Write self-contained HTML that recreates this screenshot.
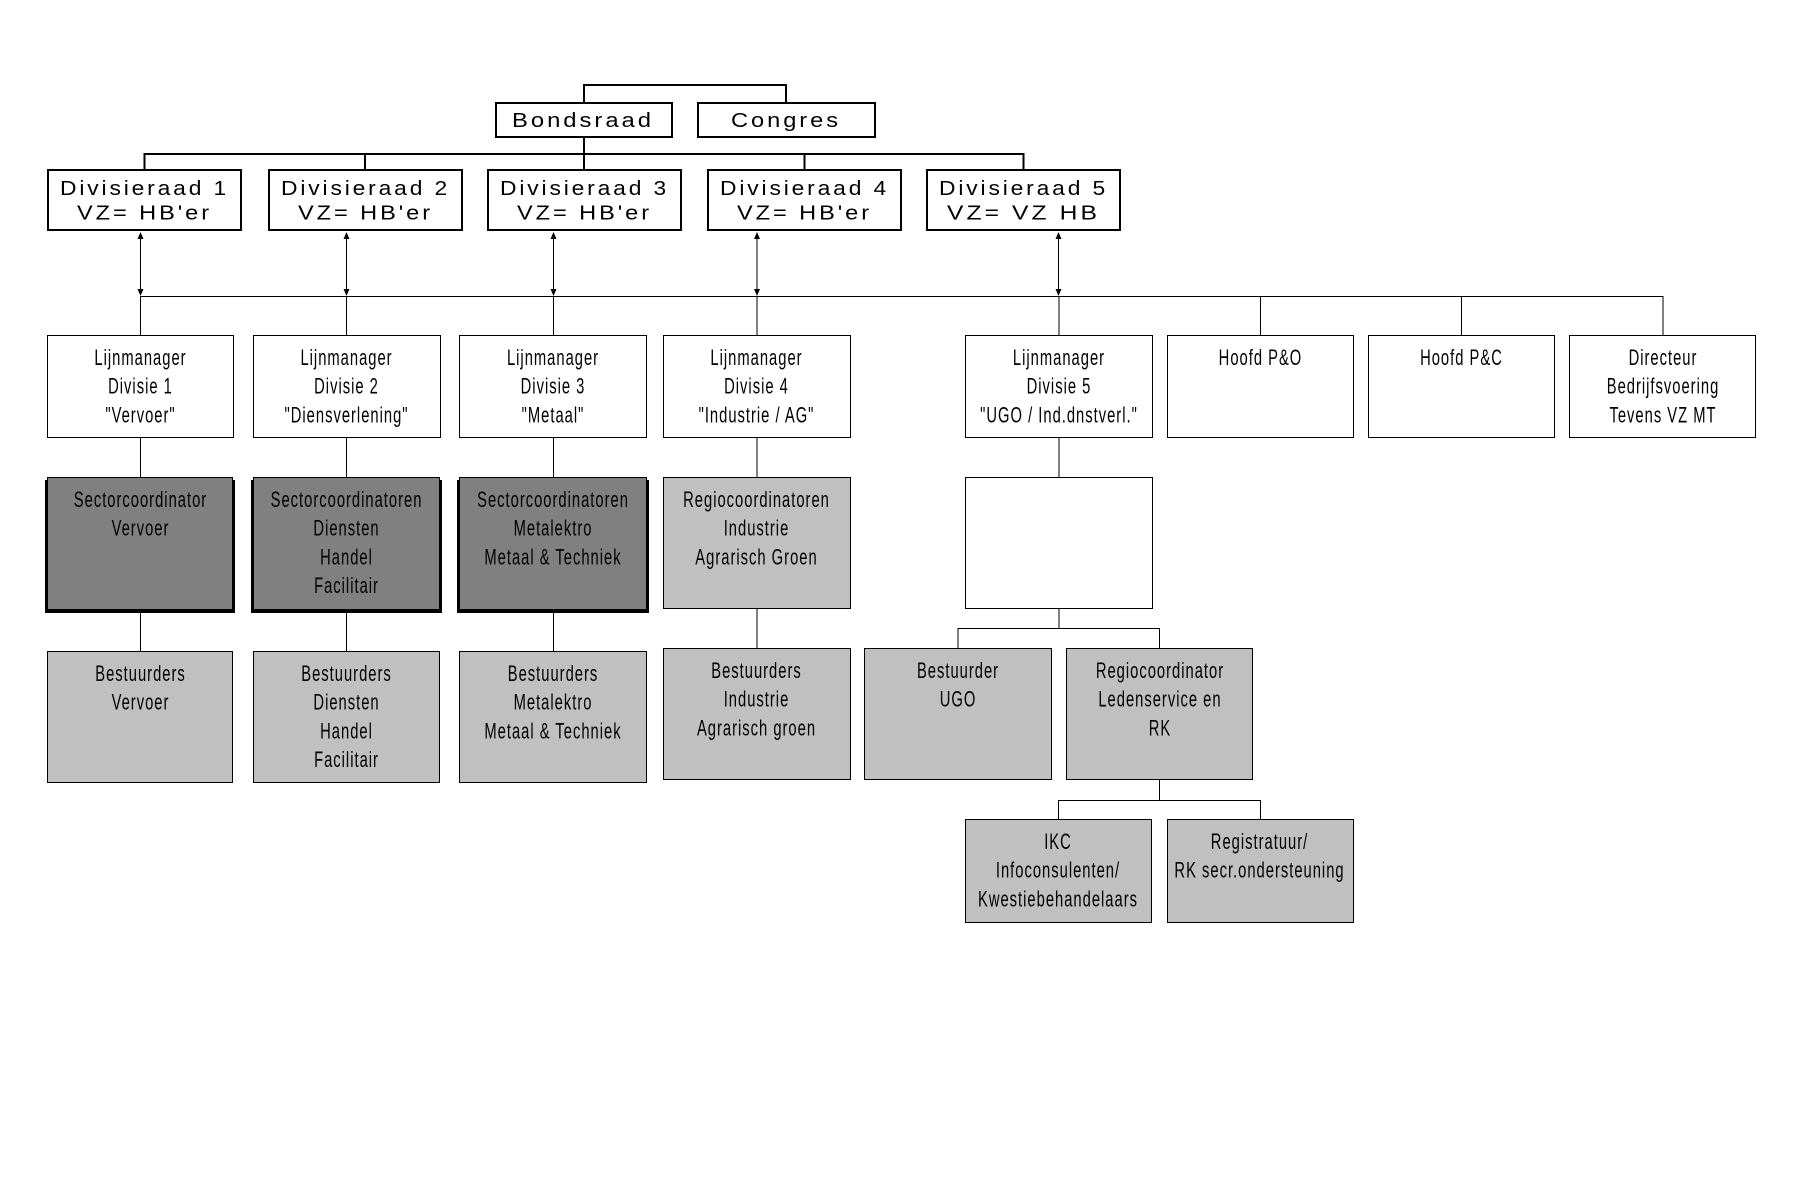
<!DOCTYPE html>
<html><head><meta charset="utf-8"><style>
html,body{margin:0;padding:0;background:#fff;}
svg{display:block;}
.t{font-family:"Liberation Sans",Arial,sans-serif;font-size:20px;fill:#000;letter-spacing:2.5px;}
.n{font-family:"Liberation Sans",Arial,sans-serif;font-size:22px;fill:#000;letter-spacing:1.5px;}
</style></head><body>
<svg width="1800" height="1200" viewBox="0 0 1800 1200" xmlns="http://www.w3.org/2000/svg">
<rect width="1800" height="1200" fill="#fff"/>

<!-- top-level connectors (2px) -->
<g stroke="#000" stroke-width="2" fill="none">
<path d="M584 102 V85 H786 V102"/>
<path d="M584 138 V170"/>
<path d="M144.5 170 V154 H1023.5 V170"/>
<path d="M365 154 V170"/>
<path d="M804.5 154 V170"/>
</g>

<!-- top-level boxes -->
<g stroke="#000" stroke-width="2" fill="#fff">
<rect x="496" y="103" width="176" height="34"/>
<rect x="698" y="103" width="177" height="34"/>
<rect x="48" y="170" width="193" height="60"/>
<rect x="269" y="170" width="193" height="60"/>
<rect x="488" y="170" width="193" height="60"/>
<rect x="708" y="170" width="193" height="60"/>
<rect x="927" y="170" width="193" height="60"/>
</g>

<g class="t">
<text x="512" y="127" textLength="142" lengthAdjust="spacingAndGlyphs">Bondsraad</text>
<text x="731" y="127" textLength="110" lengthAdjust="spacingAndGlyphs">Congres</text>
<text x="60" y="195" textLength="169" lengthAdjust="spacingAndGlyphs">Divisieraad 1</text>
<text x="77" y="219.5" textLength="135" lengthAdjust="spacingAndGlyphs">VZ= HB'er</text>
<text x="281" y="195" textLength="169" lengthAdjust="spacingAndGlyphs">Divisieraad 2</text>
<text x="298" y="219.5" textLength="135" lengthAdjust="spacingAndGlyphs">VZ= HB'er</text>
<text x="500" y="195" textLength="169" lengthAdjust="spacingAndGlyphs">Divisieraad 3</text>
<text x="517" y="219.5" textLength="135" lengthAdjust="spacingAndGlyphs">VZ= HB'er</text>
<text x="720" y="195" textLength="169" lengthAdjust="spacingAndGlyphs">Divisieraad 4</text>
<text x="737" y="219.5" textLength="135" lengthAdjust="spacingAndGlyphs">VZ= HB'er</text>
<text x="939" y="195" textLength="169" lengthAdjust="spacingAndGlyphs">Divisieraad 5</text>
<text x="947" y="219.5" textLength="153" lengthAdjust="spacingAndGlyphs">VZ= VZ HB</text>
</g>

<!-- arrows and lower connectors (1px) -->
<g stroke="#000" stroke-width="1" fill="none">
<path d="M140.5 234 V294"/>
<path d="M346.5 234 V294"/>
<path d="M553.5 234 V294"/>
<path d="M757 234 V294"/>
<path d="M1058.5 234 V294"/>
<path d="M140 296.5 H1663.5"/>
<path d="M140.5 296 V335"/>
<path d="M346.5 296 V335"/>
<path d="M553.5 296 V335"/>
<path d="M757 296 V335"/>
<path d="M1059 296 V335"/>
<path d="M1260.5 296 V335"/>
<path d="M1461.5 296 V335"/>
<path d="M1663 296 V335"/>
<path d="M140.5 438 V477"/>
<path d="M346.5 438 V477"/>
<path d="M553.5 438 V477"/>
<path d="M757 438 V477"/>
<path d="M1059 438 V477"/>
<path d="M140.5 612 V651"/>
<path d="M346.5 612 V651"/>
<path d="M553.5 612 V651"/>
<path d="M757 609 V648"/>
<path d="M1059 609 V628.5 M958 648 V628.5 H1159.5 V648"/>
<path d="M1159.5 780 V800.5 M1058.5 819 V800.5 H1260.5 V819"/>
</g>
<g fill="#000">
<polygon points="140.5,232 137.5,239 143.5,239"/>
<polygon points="140.5,296 137.5,289 143.5,289"/>
<polygon points="346.5,232 343.5,239 349.5,239"/>
<polygon points="346.5,296 343.5,289 349.5,289"/>
<polygon points="553.5,232 550.5,239 556.5,239"/>
<polygon points="553.5,296 550.5,289 556.5,289"/>
<polygon points="757,232 754,239 760,239"/>
<polygon points="757,296 754,289 760,289"/>
<polygon points="1058.5,232 1055.5,239 1061.5,239"/>
<polygon points="1058.5,296 1055.5,289 1061.5,289"/>
</g>

<!-- LM row boxes -->
<g stroke="#000" stroke-width="1" fill="#fff">
<rect x="47.5" y="335.5" width="186" height="102"/>
<rect x="253.5" y="335.5" width="187" height="102"/>
<rect x="459.5" y="335.5" width="187" height="102"/>
<rect x="663.5" y="335.5" width="187" height="102"/>
<rect x="965.5" y="335.5" width="187" height="102"/>
<rect x="1167.5" y="335.5" width="186" height="102"/>
<rect x="1368.5" y="335.5" width="186" height="102"/>
<rect x="1569.5" y="335.5" width="186" height="102"/>
</g>

<!-- row3: shadows -->
<g fill="#000">
<rect x="45" y="480" width="190" height="133"/>
<rect x="251" y="480" width="191" height="133"/>
<rect x="457" y="480" width="192" height="133"/>
</g>
<g stroke="#000" stroke-width="1">
<rect x="47.5" y="477.5" width="185" height="132" fill="#808080"/>
<rect x="253.5" y="477.5" width="186" height="132" fill="#808080"/>
<rect x="459.5" y="477.5" width="187" height="132" fill="#808080"/>
<rect x="663.5" y="477.5" width="187" height="131" fill="#c0c0c0"/>
<rect x="965.5" y="477.5" width="187" height="131" fill="#fff"/>
</g>

<!-- row4 -->
<g stroke="#000" stroke-width="1" fill="#c0c0c0">
<rect x="47.5" y="651.5" width="185" height="131"/>
<rect x="253.5" y="651.5" width="186" height="131"/>
<rect x="459.5" y="651.5" width="187" height="131"/>
<rect x="663.5" y="648.5" width="187" height="131"/>
<rect x="864.5" y="648.5" width="187" height="131"/>
<rect x="1066.5" y="648.5" width="186" height="131"/>
<rect x="965.5" y="819.5" width="186" height="103"/>
<rect x="1167.5" y="819.5" width="186" height="103"/>
</g>

<!-- narrow texts -->
<g transform="scale(0.67,1)" class="n" text-anchor="middle">
<text x="209.7" y="365">Lijnmanager</text>
<text x="209.7" y="393.7">Divisie 1</text>
<text x="209.7" y="422.4">"Vervoer"</text>
<text x="517.2" y="365">Lijnmanager</text>
<text x="517.2" y="393.7">Divisie 2</text>
<text x="517.2" y="422.4">"Diensverlening"</text>
<text x="825.4" y="365">Lijnmanager</text>
<text x="825.4" y="393.7">Divisie 3</text>
<text x="825.4" y="422.4">"Metaal"</text>
<text x="1129.1" y="365">Lijnmanager</text>
<text x="1129.1" y="393.7">Divisie 4</text>
<text x="1129.1" y="422.4">"Industrie / AG"</text>
<text x="1580.6" y="365">Lijnmanager</text>
<text x="1580.6" y="393.7">Divisie 5</text>
<text x="1580.6" y="422.4">"UGO / Ind.dnstverl."</text>
<text x="1881.3" y="365">Hoofd P&amp;O</text>
<text x="2181.3" y="365">Hoofd P&amp;C</text>
<text x="2482.1" y="365">Directeur</text>
<text x="2482.1" y="393.7">Bedrijfsvoering</text>
<text x="2482.1" y="422.4">Tevens VZ MT</text>
<text x="209.7" y="507">Sectorcoordinator</text>
<text x="209.7" y="535.7">Vervoer</text>
<text x="517.2" y="507">Sectorcoordinatoren</text>
<text x="517.2" y="535.7">Diensten</text>
<text x="517.2" y="564.4">Handel</text>
<text x="517.2" y="593.1">Facilitair</text>
<text x="825.4" y="507">Sectorcoordinatoren</text>
<text x="825.4" y="535.7">Metalektro</text>
<text x="825.4" y="564.4">Metaal &amp; Techniek</text>
<text x="1129.1" y="507">Regiocoordinatoren</text>
<text x="1129.1" y="535.7">Industrie</text>
<text x="1129.1" y="564.4">Agrarisch Groen</text>
<text x="209.7" y="681">Bestuurders</text>
<text x="209.7" y="709.7">Vervoer</text>
<text x="517.2" y="681">Bestuurders</text>
<text x="517.2" y="709.7">Diensten</text>
<text x="517.2" y="738.4">Handel</text>
<text x="517.2" y="767.1">Facilitair</text>
<text x="825.4" y="681">Bestuurders</text>
<text x="825.4" y="709.7">Metalektro</text>
<text x="825.4" y="738.4">Metaal &amp; Techniek</text>
<text x="1129.1" y="678">Bestuurders</text>
<text x="1129.1" y="706.7">Industrie</text>
<text x="1129.1" y="735.4">Agrarisch groen</text>
<text x="1429.9" y="678">Bestuurder</text>
<text x="1429.9" y="706.7">UGO</text>
<text x="1731.3" y="678">Regiocoordinator</text>
<text x="1731.3" y="706.7">Ledenservice en</text>
<text x="1731.3" y="735.4">RK</text>
<text x="1579.1" y="849">IKC</text>
<text x="1579.1" y="877.7">Infoconsulenten/</text>
<text x="1579.1" y="906.4">Kwestiebehandelaars</text>
<text x="1879.9" y="849">Registratuur/</text>
<text x="1879.9" y="877.7">RK secr.ondersteuning</text>
</g>
</svg>
</body></html>
